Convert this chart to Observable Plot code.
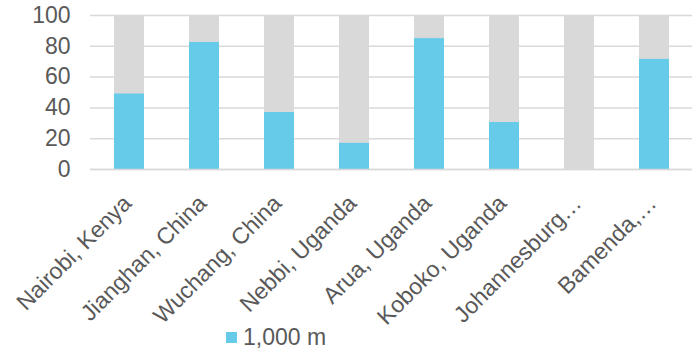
<!DOCTYPE html>
<html>
<head>
<meta charset="utf-8">
<script src="https://cdn.jsdelivr.net/npm/d3@7"></script>
<script src="https://cdn.jsdelivr.net/npm/@observablehq/plot@0.6"></script>
<style>
  body { margin: 0; background: #fff; font-family: "Liberation Sans", Arial, sans-serif; }
  #chart { position: absolute; left: 0; top: 0; }
  #legend { position: absolute; left: 226px; top: 323px; height: 28px; display: flex; align-items: center; color: #595959; font-size: 23px; }
  #legend .sw { width: 11px; height: 11px; background: #65cbe9; margin-right: 6px; }
</style>
</head>
<body>
<div id="chart"></div>
<div id="legend"><span class="sw"></span><span>1,000 m</span></div>
<script>
const categories = ["Nairobi, Kenya", "Jianghan, China", "Wuchang, China", "Nebbi, Uganda", "Arua, Uganda", "Koboko, Uganda", "Johannesburg…", "Bamenda,…"];
const values1000 = [49, 82.5, 37, 17, 85, 30.5, 0, 71.5];
const totals = [100, 100, 100, 100, 100, 100, 100, 100];
const yTicks = [0, 20, 40, 60, 80, 100];

const rows = categories.map((c, i) => ({cat: c, v: values1000[i], total: totals[i]}));

const chart = Plot.plot({
  width: 692,
  height: 350,
  marginLeft: 90,
  marginRight: 0,
  marginTop: 15,
  marginBottom: 181,
  style: {fontFamily: "'Liberation Sans', Arial, sans-serif", color: "#595959", background: "transparent"},
  x: {domain: categories, paddingInner: 0.6, paddingOuter: 0.3, label: null},
  y: {domain: [0, 100], label: null},
  marks: [
    Plot.ruleY(yTicks, {stroke: "#d9d9d9", strokeWidth: 1.5}),
    Plot.barY(rows, {x: "cat", y: "total", fill: "#d9d9d9"}),
    Plot.barY(rows, {x: "cat", y: "v", fill: "#65cbe9"}),
    Plot.ruleY([0], {stroke: "#d9d9d9", strokeWidth: 1.5}),
    Plot.axisY({ticks: yTicks, tickSize: 0, tickPadding: 20, fontSize: 23, label: null}),
    Plot.axisX({tickRotate: -45, tickSize: 0, tickPadding: 30, fontSize: 23, label: null, dx: -2})
  ]
});
document.getElementById("chart").appendChild(chart);
</script>
</body>
</html>
